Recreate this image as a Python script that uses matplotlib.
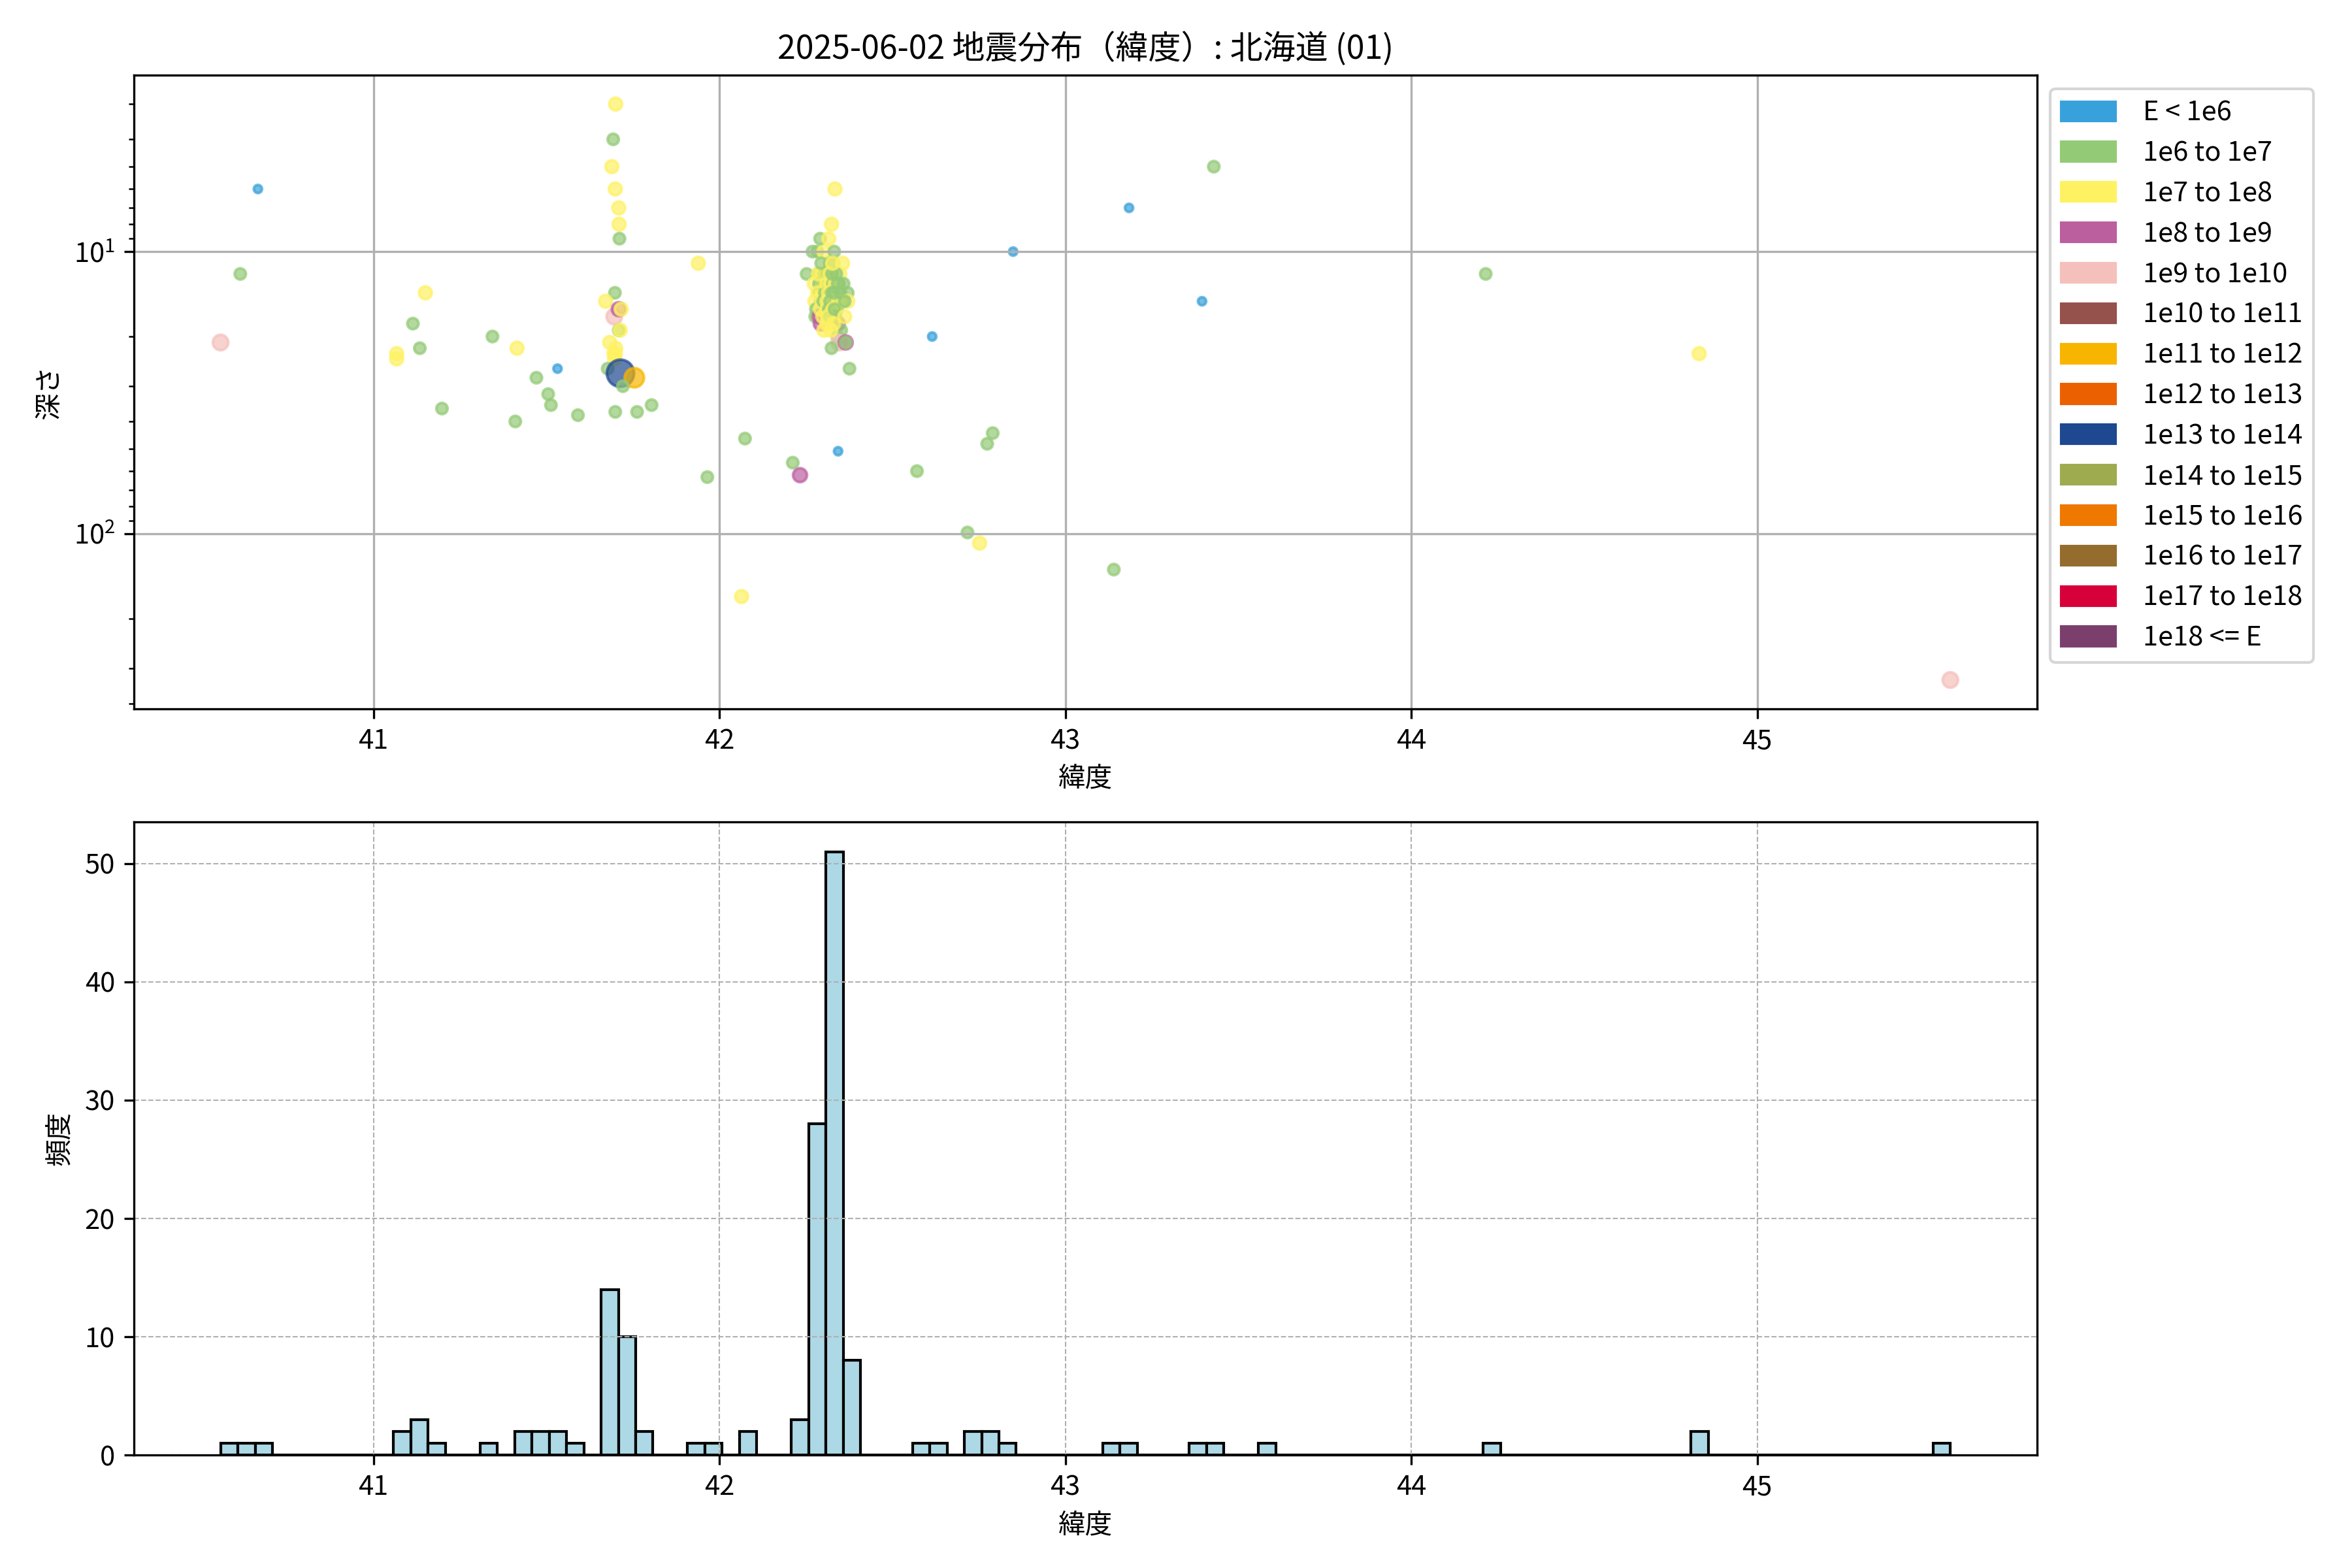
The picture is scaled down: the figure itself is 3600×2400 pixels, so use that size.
import numpy as np
import matplotlib
matplotlib.use('Agg')
import matplotlib.pyplot as plt
from matplotlib.patches import Patch

plt.rcParams['font.family'] = ['Noto Sans CJK JP', 'DejaVu Sans']

title = '2025-06-02 地震分布（緯度）: 北海道 (01)'

energy_labels = ['E < 1e6', '1e6 to 1e7', '1e7 to 1e8', '1e8 to 1e9', '1e9 to 1e10',
                 '1e10 to 1e11', '1e11 to 1e12', '1e12 to 1e13', '1e13 to 1e14',
                 '1e14 to 1e15', '1e15 to 1e16', '1e16 to 1e17', '1e17 to 1e18',
                 '1e18 <= E']
energy_colors = ['#38a1db', '#93ca76', '#fef263', '#bb5f9f', '#f5c0bb',
                 '#95514b', '#f8b500', '#eb6101', '#1e4890',
                 '#9eab4f', '#ee7800', '#946c2d', '#d7003a', '#7b3f6e']
marker_sizes = [9, 17, 22, 26, 32, 40, 50, 70, 100, 120, 140, 160, 180, 200]

# west side, 40.5 - 41.6
lat_west = [40.558, 40.615, 40.666, 41.067, 41.067, 41.114, 41.134, 41.150, 41.198,
            41.344, 41.410, 41.415, 41.471, 41.505, 41.513, 41.532, 41.591]
dep_west = [21, 12, 6, 23, 24, 18, 22, 14, 36, 20, 40, 22, 28, 32, 35, 26, 38]
cls_west = [4, 1, 0, 2, 2, 1, 1, 2, 1, 1, 1, 2, 1, 1, 1, 0, 1]

# group around 41.7
lat_g1 = [41.700, 41.693, 41.689, 41.699, 41.698, 41.671, 41.696, 41.683, 41.700,
          41.699, 41.697, 41.677, 41.699, 41.695,
          41.709, 41.710, 41.711, 41.709, 41.716, 41.709, 41.713, 41.714, 41.754, 41.721,
          41.762, 41.804]
dep_g1 = [3, 4, 5, 6, 14, 15, 17, 21, 22, 23, 24, 26, 37, 23,
          7, 8, 9, 16, 16, 19, 19, 27, 28, 30,
          37, 35]
cls_g1 = [2, 1, 2, 2, 1, 2, 4, 2, 2, 2, 2, 1, 1, 2,
          2, 2, 1, 3, 2, 1, 2, 8, 6, 1,
          1, 1]

# between the groups
lat_mid = [41.939, 41.965, 42.064, 42.074]
dep_mid = [11, 63, 167, 46]
cls_mid = [2, 1, 2, 1]

# main group around 42.3
lat_g2 = [42.212, 42.233, 42.252,
          42.269, 42.283, 42.302, 42.285, 42.297, 42.274, 42.300, 42.287, 42.276, 42.293,
          42.279, 42.277, 42.290, 42.293, 42.302, 42.291,
          42.295, 42.298, 42.288, 42.296, 42.303, 42.284, 42.292, 42.299, 42.305, 42.286,
          42.300, 42.294,
          42.334, 42.324, 42.316, 42.332, 42.319, 42.330, 42.356, 42.314, 42.348, 42.346,
          42.310, 42.311, 42.346, 42.335, 42.339, 42.355, 42.311, 42.311, 42.340, 42.324,
          42.322, 42.342, 42.311, 42.352, 42.341, 42.346, 42.324, 42.343,
          42.318, 42.322, 42.328, 42.335, 42.315, 42.325, 42.330, 42.320, 42.345, 42.316,
          42.328, 42.336, 42.318, 42.330, 42.326, 42.338, 42.322, 42.331, 42.342, 42.313,
          42.333, 42.327, 42.350,
          42.359, 42.371, 42.371, 42.362, 42.365, 42.365, 42.376, 42.362]
dep_g2 = [56, 62, 12,
          10, 10, 10, 12, 12, 13, 13, 14, 15, 15,
          16, 17, 17, 18, 19, 9,
          13, 14, 13, 15, 12, 14, 16, 17, 14, 12,
          15, 11,
          6, 8, 9, 10, 11, 11, 11, 12, 12, 13,
          13, 14, 14, 14, 15, 15, 15, 16, 16, 17,
          17, 18, 18, 19, 20, 21, 22, 51,
          12, 13, 13, 13, 14, 14, 15, 15, 15, 16,
          16, 17, 17, 18, 12, 12, 19, 14, 13, 17,
          16, 11, 14,
          13, 14, 15, 17, 21, 21, 26, 15]
cls_g2 = [1, 3, 1,
          1, 1, 2, 1, 2, 2, 2, 1, 2, 1,
          1, 1, 3, 3, 2, 1,
          2, 2, 1, 2, 1, 2, 2, 2, 1, 2,
          1, 1,
          2, 2, 2, 1, 1, 1, 2, 1, 2, 1,
          2, 1, 1, 2, 1, 1, 2, 2, 1, 2,
          2, 3, 2, 1, 1, 4, 1, 0,
          2, 2, 1, 2, 2, 1, 2, 1, 2, 1,
          2, 1, 1, 2, 1, 1, 2, 1, 1, 2,
          1, 2, 1,
          1, 1, 2, 2, 3, 1, 1, 1]

# east side
lat_east = [42.571, 42.615, 42.717, 42.752, 42.774, 42.790, 42.849, 43.140, 43.184,
            43.395, 43.429, 43.580, 44.215, 44.832, 44.835, 45.558]
dep_east = [60, 20, 99, 108, 48, 44, 10, 134, 7, 15, 5, 0, 12, 23, 0, 330]
cls_east = [1, 0, 1, 2, 1, 1, 0, 1, 0, 0, 1, 1, 1, 2, 1, 4]

lat = np.array(lat_west + lat_g1 + lat_mid + lat_g2 + lat_east)
depth = np.array(dep_west + dep_g1 + dep_mid + dep_g2 + dep_east, dtype=float)
ecls = np.array(cls_west + cls_g1 + cls_mid + cls_g2 + cls_east)

fig, (ax1, ax2) = plt.subplots(2, 1, figsize=(12, 8))
fig.subplots_adjust(left=0.057, right=0.866, top=0.952, bottom=0.072, hspace=0.178)

# depth 0 can't be shown on the log axis
m = depth > 0
ax1.scatter(lat[m], depth[m],
            c=[energy_colors[k] for k in ecls[m]],
            s=[marker_sizes[k] for k in ecls[m]],
            alpha=0.7)
ax1.set_yscale('log')
ax1.invert_yaxis()
ax1.set_title(title)
ax1.set_xlabel('緯度')
ax1.set_ylabel('深さ')
ax1.grid(True)
handles = [Patch(color=c, label=l) for c, l in zip(energy_colors, energy_labels)]
ax1.legend(handles=handles, loc='upper left', bbox_to_anchor=(1, 1), handletextpad=1.0)

ax2.hist(lat, bins=100, color='lightblue', edgecolor='black')
ax2.set_xlabel('緯度')
ax2.set_ylabel('頻度')
ax2.grid(True, linestyle='--', linewidth=0.5)

plt.savefig('out.png', dpi=300)
